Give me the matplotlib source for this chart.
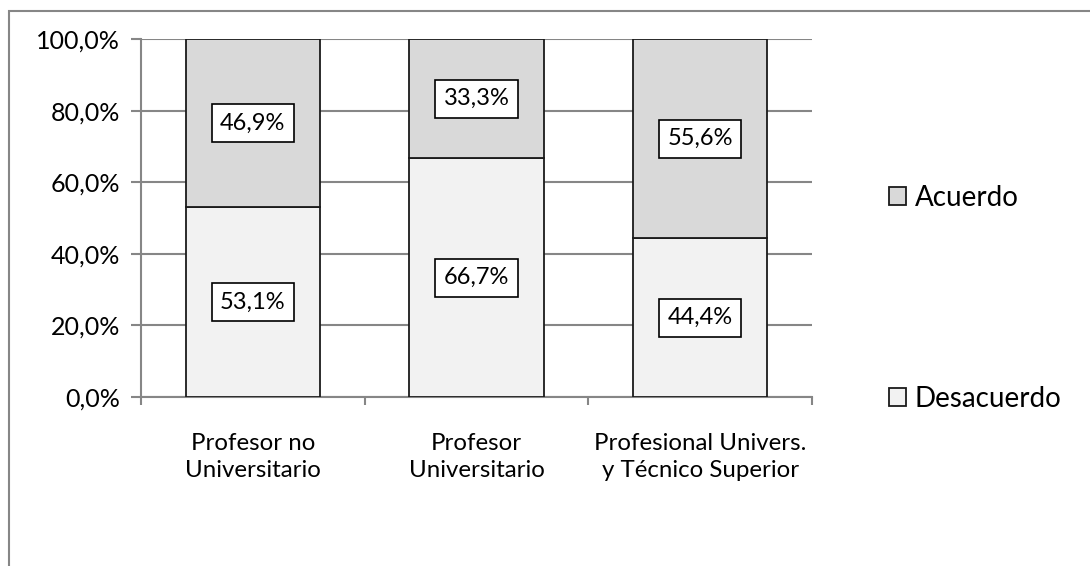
import matplotlib
matplotlib.use("Agg")
import matplotlib.pyplot as plt
from matplotlib.patches import Rectangle, Patch
from matplotlib.ticker import FixedLocator, FuncFormatter

categories = ["Profesor no\nUniversitario", "Profesor\nUniversitario",
              "Profesional Univers.\ny Técnico Superior"]
desacuerdo = [53.1, 66.7, 44.4]
acuerdo = [46.9, 33.3, 55.6]
series_names = ["Desacuerdo", "Acuerdo"]
yticks = [0, 20, 40, 60, 80, 100]

plt.rcParams['font.family'] = ['Lato', 'DejaVu Sans']

W, H = 1090, 566
fig = plt.figure(figsize=(W / 100, H / 100), dpi=100)
fig.patch.set_facecolor('white')

# outer chart frame (only top/left visible)
fig.patches.append(Rectangle((9 / W, -0.1), 1.2, (H - 11) / H + 0.1,
                             transform=fig.transFigure, fill=False,
                             edgecolor='#868686', linewidth=1.5, zorder=0))

ax = fig.add_axes([141 / W, (H - 397) / H, (812 - 141) / W, (397 - 39) / H])

c_des = '#F2F2F2'
c_acu = '#D9D9D9'
x = list(range(len(categories)))
ax.bar(x, desacuerdo, width=0.6, color=c_des, edgecolor='#1a1a1a',
       linewidth=1.3, zorder=3)
ax.bar(x, acuerdo, width=0.6, bottom=desacuerdo, color=c_acu,
       edgecolor='#1a1a1a', linewidth=1.3, zorder=3)

def fmt(v):
    return f"{v:.1f}".replace('.', ',') + '%'

for i in x:
    for bottom, val in ((0, desacuerdo[i]), (desacuerdo[i], acuerdo[i])):
        ax.text(i, bottom + val / 2, fmt(val), ha='center', va='center',
                fontsize=17, zorder=5,
                bbox=dict(boxstyle='square,pad=0.36', facecolor='white',
                          edgecolor='black', linewidth=1.2))

ax.set_xlim(-0.5, len(categories) - 0.5)
ax.set_ylim(0, 100)

ax.yaxis.set_major_locator(FixedLocator(yticks))
ax.yaxis.set_major_formatter(FuncFormatter(lambda v, p: fmt(v)))
ax.grid(axis='y', color='#868686', linewidth=1.5, zorder=0)

ax.xaxis.set_major_locator(FixedLocator([i - 0.5 for i in range(len(categories) + 1)]))
ax.xaxis.set_major_formatter(FuncFormatter(lambda v, p: ''))
ax.xaxis.set_minor_locator(FixedLocator(x))
ax.set_xticklabels(categories, minor=True)
ax.tick_params(axis='x', which='minor', length=0, pad=26, labelsize=17.3)
ax.tick_params(axis='x', which='major', length=6, width=1.5, color='#868686',
               direction='out')
ax.tick_params(axis='y', length=7, width=1.5, color='#868686', direction='out',
               labelsize=18, pad=8)
for lbl in ax.get_xticklabels(minor=True):
    lbl.set_linespacing(1.35)

for s in ['top', 'right']:
    ax.spines[s].set_visible(False)
for s in ['left', 'bottom']:
    ax.spines[s].set_color('#868686')
    ax.spines[s].set_linewidth(1.5)

handles = [Patch(facecolor=c_acu, edgecolor='#1a1a1a', linewidth=1.3),
           Patch(facecolor=c_des, edgecolor='#1a1a1a', linewidth=1.3)]
fig.legend(handles, [series_names[1], series_names[0]], loc='center left',
           bbox_to_anchor=(889 / W, 1 - 298.5 / H), frameon=False, fontsize=20,
           labelspacing=6.3, handlelength=0.62, handleheight=0.62,
           handletextpad=0.3, borderpad=0, borderaxespad=0)

fig.savefig('out.png', dpi=100, facecolor='white')
